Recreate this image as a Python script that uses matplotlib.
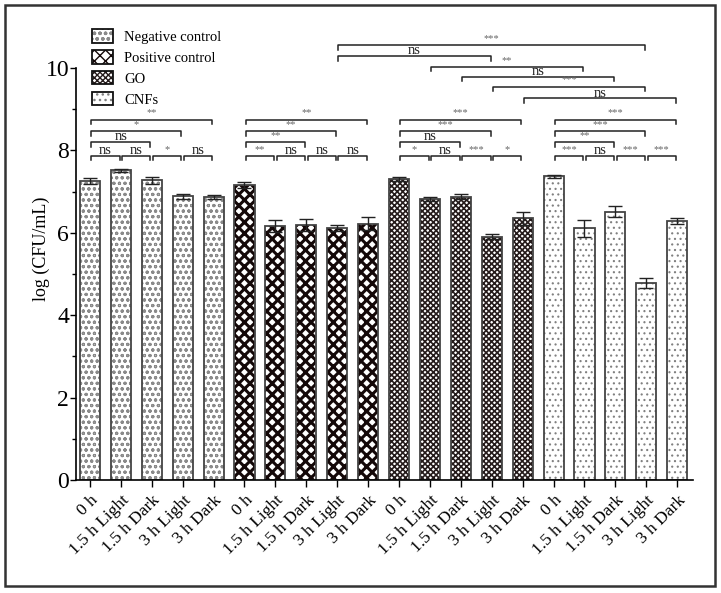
import matplotlib
matplotlib.use("Agg")
import matplotlib.pyplot as plt
from matplotlib.patches import Rectangle, Patch
from matplotlib.legend_handler import HandlerTuple
import numpy as np

plt.rcParams['font.family'] = ['Liberation Serif', 'DejaVu Serif']

groups = ['Negative control', 'Positive control', 'GO', 'CNFs']
conds = ['0 h', '1.5 h Light', '1.5 h Dark', '3 h Light', '3 h Dark']
neg = [7.26, 7.52, 7.27, 6.89, 6.86]
pos = [7.16, 6.17, 6.19, 6.11, 6.22]
go = [7.30, 6.82, 6.88, 5.91, 6.35]
cnf = [7.37, 6.11, 6.51, 4.78, 6.28]
neg_err = [0.08, 0.04, 0.08, 0.06, 0.05]
pos_err = [0.08, 0.14, 0.14, 0.07, 0.16]
go_err = [0.05, 0.06, 0.05, 0.06, 0.15]
cnf_err = [0.03, 0.21, 0.13, 0.13, 0.07]

# significance brackets: left bar, right bar, height, label
sig_l = [0, 1, 2, 3, 0, 0, 0,
         5, 6, 7, 8, 5, 5, 5,
         10, 11, 12, 13, 10, 10, 10,
         15, 16, 17, 18, 15, 15, 15,
         14, 13, 12, 11, 8, 8]
sig_r = [1, 2, 3, 4, 2, 3, 4,
         6, 7, 8, 9, 7, 8, 9,
         11, 12, 13, 14, 12, 13, 14,
         16, 17, 18, 19, 17, 18, 19,
         19, 18, 17, 16, 13, 18]
sig_y = [7.87, 7.87, 7.87, 7.87, 8.2, 8.47, 8.75] * 4 + [9.26, 9.55, 9.79, 10.03, 10.29, 10.55]
sig_t = ['ns', 'ns', '*', 'ns', 'ns', '*', '**',
         '**', 'ns', 'ns', 'ns', '**', '**', '**',
         '*', 'ns', '***', '*', 'ns', '***', '***',
         '***', 'ns', '***', '***', '**', '***', '***',
         'ns', '***', 'ns', '**', 'ns', '***']

vals = neg + pos + go + cnf
errs = neg_err + pos_err + go_err + cnf_err
labels = conds * 4
x = np.arange(len(vals))

hatches = ['ooo', 'xxx', 'xxxxxx', '...']
hcols = ['#8a8a8a', '#140808', '#251b1b', '#808080']
hlw = [0.8, 2.2, 1.2, 0.8]

fig = plt.figure(figsize=(7.21, 5.93), dpi=100)
ax = fig.add_axes([76 / 721, 1 - 480 / 593, (693 - 76) / 721, 412 / 593])

for g in range(4):
    xs = x[g * 5:(g + 1) * 5]
    vs = vals[g * 5:(g + 1) * 5]
    with plt.rc_context({'hatch.linewidth': hlw[g]}):
        ax.bar(xs, vs, width=0.65, color='white', edgecolor=hcols[g], hatch=hatches[g], linewidth=0)
    ax.bar(xs, vs, width=0.65, fill=False, edgecolor='#444444', linewidth=1.3)
ax.errorbar(x, vals, yerr=errs, fmt='none', ecolor='#222222', elinewidth=1, capsize=5, capthick=1)

for l, r, y, t in zip(sig_l, sig_r, sig_y, sig_t):
    a = l + 0.04
    b = r - 0.04
    ax.plot([a, a, b, b], [y - 0.11, y, y, y - 0.11], color='#222222', lw=1.1, clip_on=False)
    if t == 'ns':
        ax.text((a + b) / 2, y - 0.03, t, ha='center', va='bottom', fontsize=10.5, color='#222222')
    else:
        ax.text((a + b) / 2, y + 0.05, t, ha='center', va='bottom', fontsize=7.5, color='#666666')

ax.set_xlim(-0.45, 19.51)
ax.set_ylim(0, 10)
ax.set_yticks([0, 2, 4, 6, 8, 10])
ax.set_yticks([1, 3, 5, 7, 9], minor=True)
ax.tick_params(axis='y', labelsize=17, direction='out', length=4, width=1, pad=1)
ax.tick_params(axis='y', which='minor', length=3, width=1)
ax.set_xticks(x)
ax.set_xticklabels(labels, rotation=45, ha='right', rotation_mode='anchor', fontsize=12.5)
ax.tick_params(axis='x', direction='out', length=5, width=1, pad=4)
ax.spines['top'].set_visible(False)
ax.spines['right'].set_visible(False)
ax.spines['left'].set_linewidth(1.2)
ax.spines['bottom'].set_linewidth(1.2)
ax.set_ylabel('log (CFU/mL)', fontsize=13)
ax.yaxis.set_label_coords(-0.042, 0.56)

handles = []
for g in range(4):
    with plt.rc_context({'hatch.linewidth': hlw[g]}):
        hp = Patch(facecolor='white', edgecolor=hcols[g], hatch=hatches[g], linewidth=0)
    op = Patch(fill=False, edgecolor='#111111', linewidth=1.3)
    handles.append((hp, op))
leg = fig.legend(handles, groups, loc='upper left', bbox_to_anchor=(82 / 721, 1 - 19 / 593),
                 frameon=False, fontsize=10.5, handlelength=1.45, handleheight=1.05,
                 labelspacing=0.42, handletextpad=0.75, borderpad=0.2,
                 handler_map={tuple: HandlerTuple(ndivide=1)})

fig.patches.append(Rectangle((5 / 721, 7 / 593), 710 / 721, 581 / 593, transform=fig.transFigure,
                             fill=False, edgecolor='#333333', linewidth=1.8))

plt.savefig('out.png', dpi=100)
